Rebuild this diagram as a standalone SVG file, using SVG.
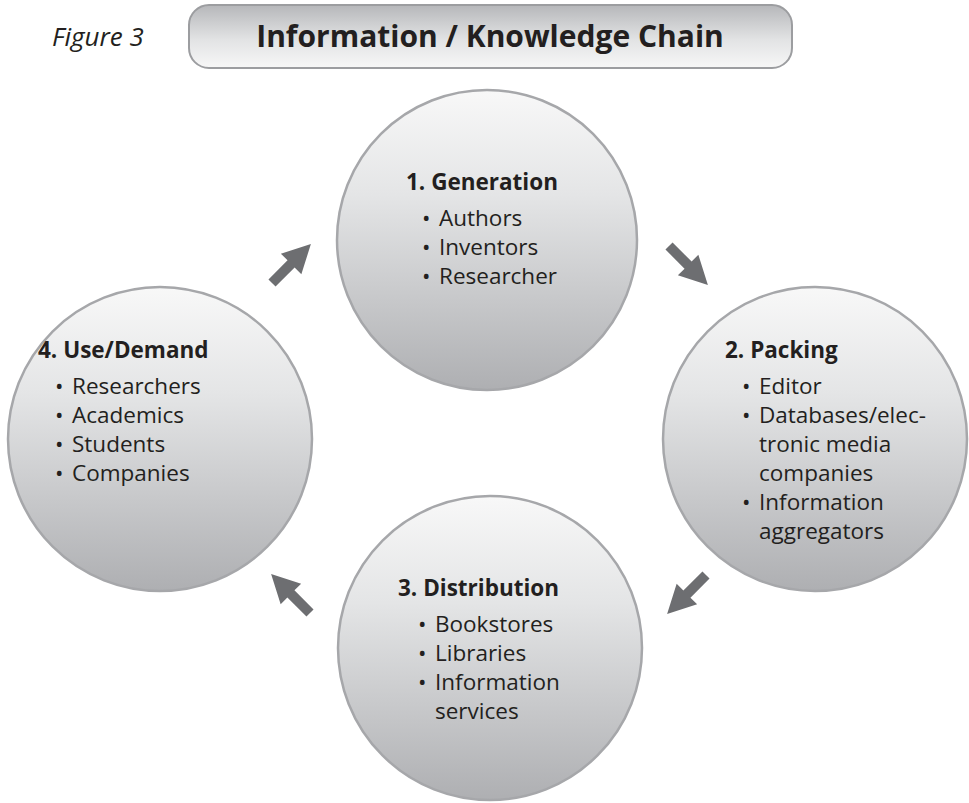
<svg xmlns="http://www.w3.org/2000/svg" xmlns:xlink="http://www.w3.org/1999/xlink" width="969" height="803" viewBox="0 0 969 803">
<defs>
<linearGradient id="gTitle" x1="0" y1="0" x2="0" y2="1">
<stop offset="0" stop-color="#b6b7ba"/>
<stop offset="0.55" stop-color="#e2e3e4"/>
<stop offset="1" stop-color="#f7f7f7"/>
</linearGradient>
<linearGradient id="gCircle" x1="0" y1="0" x2="0" y2="1">
<stop offset="0" stop-color="#f8f8f8"/>
<stop offset="0.35" stop-color="#e4e5e6"/>
<stop offset="1" stop-color="#aeafb2"/>
</linearGradient>
<path id="arrow" d="M0,-5 L27,-5 L27,-14.5 L55,0 L27,14.5 L27,5 L0,5 Z"/>
<style>
.circle{fill:url(#gCircle);stroke:#a6a7aa;stroke-width:2.5}
.head{font-family:"Open Sans","Noto Sans","Liberation Sans",sans-serif;font-weight:bold;font-size:22.5px;fill:#231f20}
.item{font-family:"Open Sans","Noto Sans","Liberation Sans",sans-serif;font-size:22.5px;fill:#231f20}
.arr{fill:#6d6e71}
</style>
</defs>
<rect width="969" height="803" fill="#ffffff"/>
<g id="header">
<text x="52" y="46" style="font-family:'Open Sans','Noto Sans','Liberation Sans',sans-serif;font-style:italic;font-size:26px;fill:#231f20">Figure 3</text>
<rect x="189" y="5" width="603" height="63" rx="20" ry="20" fill="url(#gTitle)" stroke="#9c9da0" stroke-width="2"/>
<text x="490" y="47" text-anchor="middle" style="font-family:'Open Sans','Noto Sans','Liberation Sans',sans-serif;font-weight:bold;font-size:30px;fill:#231f20">Information / Knowledge Chain</text>
</g>
<g id="node1">
<circle class="circle" cx="487" cy="240" r="150"/>
<text class="head" x="406" y="190">1. Generation</text>
<text class="item" y="226"><tspan x="422">•</tspan><tspan x="439">Authors</tspan></text>
<text class="item" y="255"><tspan x="422">•</tspan><tspan x="439">Inventors</tspan></text>
<text class="item" y="284"><tspan x="422">•</tspan><tspan x="439">Researcher</tspan></text>
</g>
<g id="node2">
<circle class="circle" cx="815" cy="439" r="152"/>
<text class="head" x="725" y="358">2. Packing</text>
<text class="item" y="394"><tspan x="742">•</tspan><tspan x="759">Editor</tspan></text>
<text class="item" y="423"><tspan x="742">•</tspan><tspan x="759">Databases/elec-</tspan></text>
<text class="item" x="759" y="452">tronic media</text>
<text class="item" x="759" y="481">companies</text>
<text class="item" y="510"><tspan x="742">•</tspan><tspan x="759">Information</tspan></text>
<text class="item" x="759" y="539">aggregators</text>
</g>
<g id="node3">
<circle class="circle" cx="490" cy="648" r="152"/>
<text class="head" x="398" y="596">3. Distribution</text>
<text class="item" y="632"><tspan x="418">•</tspan><tspan x="435">Bookstores</tspan></text>
<text class="item" y="661"><tspan x="418">•</tspan><tspan x="435">Libraries</tspan></text>
<text class="item" y="690"><tspan x="418">•</tspan><tspan x="435">Information</tspan></text>
<text class="item" x="435" y="719">services</text>
</g>
<g id="node4">
<circle class="circle" cx="160" cy="439" r="152"/>
<text class="head" x="38" y="358">4. Use/Demand</text>
<text class="item" y="394"><tspan x="55">•</tspan><tspan x="72">Researchers</tspan></text>
<text class="item" y="423"><tspan x="55">•</tspan><tspan x="72">Academics</tspan></text>
<text class="item" y="452"><tspan x="55">•</tspan><tspan x="72">Students</tspan></text>
<text class="item" y="481"><tspan x="55">•</tspan><tspan x="72">Companies</tspan></text>
</g>
<g id="connectors">
<use xlink:href="#arrow" class="arr" transform="translate(272,283) rotate(-45)"/>
<use xlink:href="#arrow" class="arr" transform="translate(669,246) rotate(45)"/>
<use xlink:href="#arrow" class="arr" transform="translate(706,575) rotate(135)"/>
<use xlink:href="#arrow" class="arr" transform="translate(310,613) rotate(-135)"/>
</g>
</svg>
